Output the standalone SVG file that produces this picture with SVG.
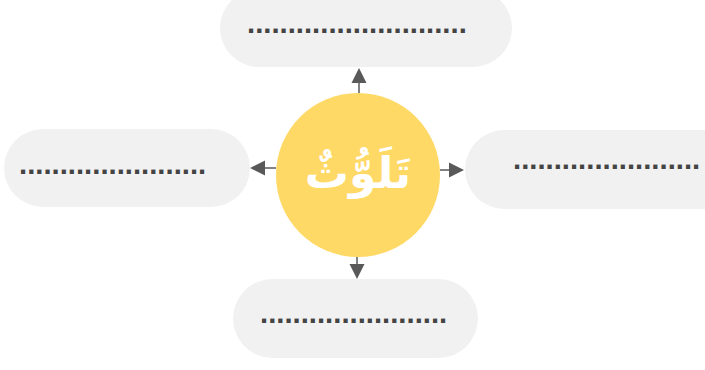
<svg xmlns="http://www.w3.org/2000/svg" width="705" height="370" viewBox="0 0 705 370">
<defs>
<style>
.box{fill:#f1f1f1}
.dots{font-family:"Liberation Sans",Arial,sans-serif;font-size:29.3px;font-weight:bold;fill:#444}
.conn{stroke:#595959;stroke-width:1.5;fill:none}
.head{fill:#595959}
.center{font-family:"DejaVu Sans",sans-serif;font-size:44px;font-weight:bold;fill:#fff}
</style>
</defs>
<rect width="705" height="370" fill="#fff"/>
<g id="connectors">
<line class="conn" x1="359" y1="94" x2="359" y2="82"/>
<polygon class="head" points="359,68 351.5,83 366.5,83"/>
<line class="conn" x1="276" y1="168" x2="264" y2="168"/>
<polygon class="head" points="250,168 265,160.5 265,175.5"/>
<line class="conn" x1="440" y1="170" x2="449" y2="170"/>
<polygon class="head" points="464,170 449,162.5 449,177.5"/>
<line class="conn" x1="357" y1="255" x2="357" y2="265"/>
<polygon class="head" points="357,279 349.5,264 364.5,264"/>
</g>
<g id="center">
<circle cx="358" cy="175" r="82" fill="#ffd966"/>
<text class="center" x="358" y="188" text-anchor="middle" direction="rtl">تَلَوُّثٌ</text>
</g>
<g id="top">
<rect class="box" x="220" y="-11" width="292" height="78" rx="39"/>
<text class="dots" x="247" y="33">...........................</text>
</g>
<g id="left">
<rect class="box" x="4" y="129" width="246" height="78" rx="39"/>
<text class="dots" x="19" y="174">.......................</text>
</g>
<g id="right">
<rect class="box" x="465" y="130" width="280" height="79" rx="39.5"/>
<text class="dots" x="513" y="169">.......................</text>
</g>
<g id="bottom">
<rect class="box" x="233" y="279" width="245" height="79" rx="39.5"/>
<text class="dots" x="260" y="323">.......................</text>
</g>
</svg>
